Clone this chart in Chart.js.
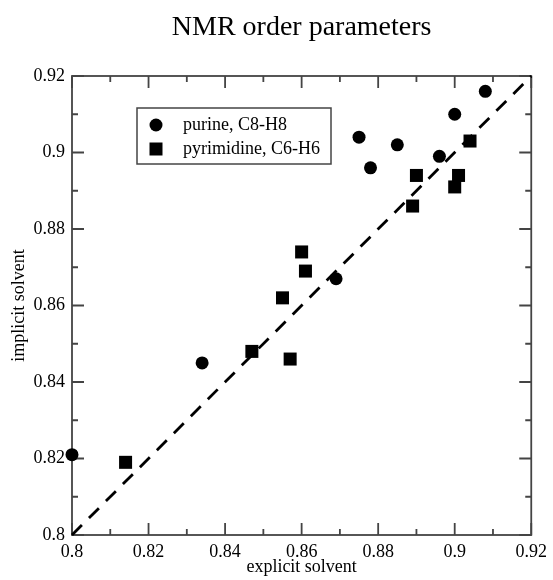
<!DOCTYPE html>
<html>
<head>
<meta charset="utf-8">
<title>NMR order parameters</title>
<script src="https://cdn.jsdelivr.net/npm/chart.js@4.4.1/dist/chart.umd.min.js"></script>
<style>
    html, body { margin: 0; padding: 0; background: #fff; }
</style>
</head>
<body>
<canvas id="nmrChart" width="553" height="580"></canvas>
<script>
// Values
const purineX = [0.800, 0.834, 0.869, 0.875, 0.878, 0.885, 0.896, 0.900, 0.908];
const purineY = [0.821, 0.845, 0.867, 0.904, 0.896, 0.902, 0.899, 0.910, 0.916];
const pyrimidineX = [0.814, 0.847, 0.855, 0.857, 0.860, 0.861, 0.889, 0.890, 0.900, 0.901, 0.904];
const pyrimidineY = [0.819, 0.848, 0.862, 0.846, 0.874, 0.869, 0.886, 0.894, 0.891, 0.894, 0.903];
const diagonal = [0.80, 0.92];
const majorTicks = [0.80, 0.82, 0.84, 0.86, 0.88, 0.90, 0.92];
const minorTicks = [0.81, 0.83, 0.85, 0.87, 0.89, 0.91];
const seriesLabels = ["purine, C8-H8", "pyrimidine, C6-H6"];

const serif = "'Liberation Serif', 'Times New Roman', serif";
Chart.defaults.font.family = serif;
Chart.defaults.color = "#000";

function toPoints(xs, ys) {
    return xs.map((x, i) => ({ x: x, y: ys[i] }));
}

function fmt(v) {
    return String(Math.round(v * 100) / 100);
}

// Box around the plot with inward ticks on all four sides
const framePlugin = {
    id: "frame",
    beforeDatasetsDraw(chart) {
        const { ctx, chartArea: a, scales: { x, y } } = chart;
        ctx.save();
        ctx.strokeStyle = "#444";
        ctx.lineWidth = 1.8;
        ctx.strokeRect(a.left, a.top, a.right - a.left, a.bottom - a.top);
        ctx.beginPath();
        const addTicks = (values, len) => {
            values.forEach(v => {
                const px = x.getPixelForValue(v);
                const py = y.getPixelForValue(v);
                ctx.moveTo(px, a.bottom); ctx.lineTo(px, a.bottom - len);
                ctx.moveTo(px, a.top); ctx.lineTo(px, a.top + len);
                ctx.moveTo(a.left, py); ctx.lineTo(a.left + len, py);
                ctx.moveTo(a.right, py); ctx.lineTo(a.right - len, py);
            });
        };
        addTicks(majorTicks, 12);
        addTicks(minorTicks, 6);
        ctx.stroke();
        ctx.restore();
    }
};

// Framed legend inside the plot area
const legendPlugin = {
    id: "boxLegend",
    afterDatasetsDraw(chart) {
        const { ctx, chartArea: a } = chart;
        const bx = a.left + 65, by = a.top + 32, bw = 194, bh = 56;
        ctx.save();
        ctx.fillStyle = "#fff";
        ctx.fillRect(bx, by, bw, bh);
        ctx.strokeStyle = "#444";
        ctx.lineWidth = 1.5;
        ctx.strokeRect(bx, by, bw, bh);
        ctx.font = "18px " + serif;
        ctx.textBaseline = "middle";
        ctx.fillStyle = "#000";
        chart.data.datasets.slice(0, 2).forEach((ds, i) => {
            const cy = by + 17 + i * 24;
            const cx = bx + 19;
            ctx.beginPath();
            if (ds.pointStyle === "rect") {
                ctx.rect(cx - 6.5, cy - 6.5, 13, 13);
            } else {
                ctx.arc(cx, cy, 6.5, 0, Math.PI * 2);
            }
            ctx.fill();
            ctx.fillText(ds.label, bx + 46, cy);
        });
        ctx.restore();
    }
};

const axisStyle = (title, fitSide) => ({
    type: "linear",
    min: 0.8,
    max: 0.92,
    grid: { display: false, drawTicks: false },
    border: { display: false },
    afterBuildTicks: s => { s.ticks = majorTicks.map(v => ({ value: v })); },
    afterFit: fitSide,
    ticks: { autoSkip: false, maxRotation: 0, font: { size: 18 }, callback: fmt },
    title: { display: true, text: title, font: { size: 18 } }
});

const xAxis = axisStyle("explicit solvent", s => { s.height = 45; });
xAxis.ticks.padding = 6;
xAxis.title.padding = { top: 0, bottom: 2 };

const yAxis = axisStyle("implicit solvent", s => { s.width = 72; });
yAxis.ticks.padding = 7;
yAxis.title.padding = { top: 8, bottom: 0 };

new Chart(document.getElementById("nmrChart"), {
    type: "scatter",
    data: {
        datasets: [{
            label: seriesLabels[0],
            data: toPoints(purineX, purineY),
            pointStyle: "circle",
            pointRadius: 6.5,
            backgroundColor: "#000",
            borderWidth: 0,
            clip: false
        }, {
            label: seriesLabels[1],
            data: toPoints(pyrimidineX, pyrimidineY),
            pointStyle: "rect",
            pointRadius: 9.2,
            backgroundColor: "#000",
            borderWidth: 0,
            clip: false
        }, {
            type: "line",
            label: "x = y",
            data: toPoints(diagonal, diagonal),
            showLine: true,
            borderColor: "#000",
            borderWidth: 2.8,
            borderDash: [14, 10],
            pointRadius: 0,
            fill: false,
            clip: false
        }]
    },
    options: {
        responsive: false,
        animation: false,
        devicePixelRatio: 1,
        layout: { padding: { left: 0, right: 21, top: 0, bottom: 0 } },
        scales: { x: xAxis, y: yAxis },
        plugins: {
            legend: { display: false },
            tooltip: { enabled: false },
            title: {
                display: true,
                fullSize: false,
                text: "NMR order parameters",
                color: "#000",
                font: { size: 28, weight: "normal" },
                padding: { top: 11, bottom: 31.4 }
            }
        }
    },
    plugins: [framePlugin, legendPlugin]
});
</script>
</body>
</html>
